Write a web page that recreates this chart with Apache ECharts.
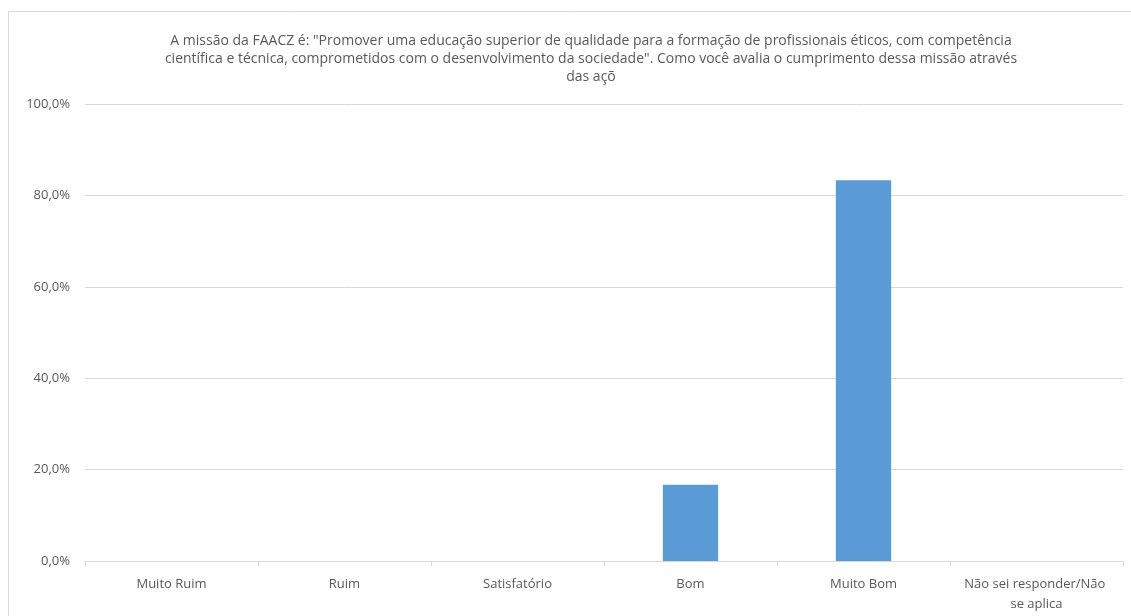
<!DOCTYPE html>
<html>
<head>
<meta charset="utf-8">
<style>html,body{margin:0;padding:0;background:#fff;}#c{width:1131px;height:616px;}</style>
<script src="https://cdn.jsdelivr.net/npm/echarts@6/dist/echarts.min.js"></script>
</head>
<body>
<div id="c"></div>
<script>
var titleLines = [
  'A missão da FAACZ é: "Promover uma educação superior de qualidade para a formação de profissionais éticos, com competência',
  'científica e técnica, comprometidos com o desenvolvimento da sociedade". Como você avalia o cumprimento dessa missão através',
  'das açõ'
];
var categories = ['Muito Ruim', 'Ruim', 'Satisfatório', 'Bom', 'Muito Bom', 'Não sei responder/Não se aplica'];
var values = [0, 0, 0, 16.7, 83.3, 0];
var yTicks = [0, 20, 40, 60, 80, 100];

var FONT = 'Open Sans';
var chart = echarts.init(document.getElementById('c'));
chart.setOption({
  animation: false,
  textStyle: { fontFamily: FONT },
  graphic: [{
    type: 'rect', silent: true, z: 100,
    shape: { x: 8.5, y: 11.5, width: 1200, height: 700 },
    style: { fill: 'none', stroke: '#d9d9d9', lineWidth: 1 }
  }],
  title: {
    text: titleLines.join('\n'),
    left: 586, top: 27, textAlign: 'center',
    textStyle: { fontSize: 14, fontWeight: 'normal', color: '#595959', lineHeight: 18, fontFamily: FONT }
  },
  grid: { left: 85, right: 8, top: 104, bottom: 55 },
  xAxis: {
    type: 'category', data: categories,
    axisLine: { lineStyle: { color: '#d9d9d9' } },
    axisTick: { show: true, alignWithLabel: false, length: 5, lineStyle: { color: '#d9d9d9' } },
    axisLabel: { color: '#595959', fontSize: 13, margin: 13, width: 165, overflow: 'break', lineHeight: 20, interval: 0 }
  },
  yAxis: {
    type: 'value', min: 0, max: 100, interval: 20,
    axisLine: { show: false }, axisTick: { show: false },
    splitLine: { lineStyle: { color: '#d9d9d9' } },
    axisLabel: {
      color: '#595959', fontSize: 13, margin: 15,
      formatter: function (v) { return yTicks.indexOf(v) >= 0 ? v.toFixed(1).replace('.', ',') + '%' : ''; }
    }
  },
  series: [{
    type: 'bar', data: values, barWidth: '32%',
    itemStyle: { color: '#5b9bd5' }
  }]
});
</script>
</body>
</html>
